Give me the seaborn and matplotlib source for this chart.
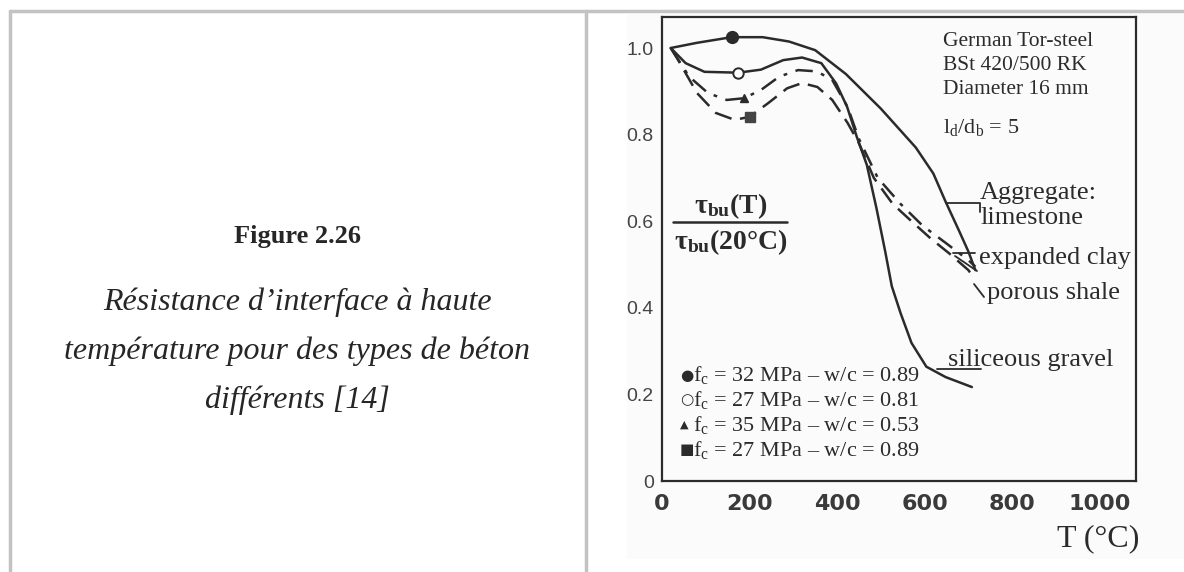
import numpy as np
import pandas as pd
import matplotlib
matplotlib.use('Agg')
import matplotlib.pyplot as plt
from matplotlib.lines import Line2D
from matplotlib.patches import Rectangle
import seaborn as sns

# values (T in degC, bond ratio)
limestone_T = [20, 80, 159, 230, 290, 350, 420, 500, 580, 620, 648, 680, 700, 716]
limestone_r = [1.0, 1.012, 1.025, 1.025, 1.015, 0.995, 0.94, 0.86, 0.77, 0.71, 0.645, 0.575, 0.53, 0.487]

gravel_T = [20, 54, 97, 174, 226, 277, 320, 364, 398, 423, 445, 468, 490, 510, 525, 545, 570, 604, 648, 708]
gravel_r = [1.0, 0.965, 0.945, 0.943, 0.95, 0.972, 0.978, 0.965, 0.918, 0.864, 0.795, 0.73, 0.63, 0.53, 0.45, 0.388, 0.319, 0.264, 0.24, 0.217]

clay_T = [20, 62, 105, 148, 187, 226, 268, 311, 354, 389, 424, 450, 493, 545, 595, 648, 700, 716]
clay_r = [1.0, 0.934, 0.896, 0.88, 0.884, 0.903, 0.934, 0.949, 0.946, 0.926, 0.864, 0.79, 0.70, 0.64, 0.59, 0.55, 0.51, 0.495]

shale_T = [20, 37, 80, 123, 166, 200, 243, 286, 320, 355, 389, 424, 450, 484, 527, 570, 614, 657, 700, 712]
shale_r = [1.0, 0.972, 0.896, 0.85, 0.834, 0.841, 0.873, 0.907, 0.919, 0.91, 0.88, 0.827, 0.78, 0.70, 0.64, 0.60, 0.56, 0.525, 0.487, 0.47]

# test points marked on the curves
marker_T = [159, 174, 187, 200]
marker_r = [1.025, 0.943, 0.884, 0.841]

x_ticks = [0, 200, 400, 600, 800, 1000]
y_ticks = [0, 0.2, 0.4, 0.6, 0.8, 1.0]
y_ticklabels = ['0', '0.2', '0.4', '0.6', '0.8', '1.0']

legend_lines = [r'f$_\mathrm{c}$ = 32 MPa – w/c = 0.89',
                r'f$_\mathrm{c}$ = 27 MPa – w/c = 0.81',
                r'f$_\mathrm{c}$ = 35 MPa – w/c = 0.53',
                r'f$_\mathrm{c}$ = 27 MPa – w/c = 0.89']
legend_syms = ['●', '○', '▲', '■']

sns.set_style('white')
plt.rcParams['font.family'] = ['Liberation Serif', 'DejaVu Sans']
plt.rcParams['mathtext.fontset'] = 'custom'
plt.rcParams['mathtext.rm'] = 'Liberation Serif'
plt.rcParams['mathtext.it'] = 'Liberation Serif:italic'
plt.rcParams['mathtext.bf'] = 'Liberation Serif:bold'

W, H = 1184, 572
fig = plt.figure(figsize=(W / 100, H / 100), dpi=100)


def fx(px):
    return px / W


def fy(py):
    return 1 - py / H


# scanned page background (very faint)
fig.add_artist(Rectangle((fx(627), fy(559)), fx(1184) - fx(627), fy(14) - fy(559),
                         transform=fig.transFigure, facecolor='#fcfbfb', edgecolor='none', zorder=0))

# table borders
border = '#c3c3c3'
fig.add_artist(Line2D([fx(10), fx(10)], [fy(11), 0], transform=fig.transFigure, color=border, lw=2.5))
fig.add_artist(Line2D([fx(10), 1], [fy(11), fy(11)], transform=fig.transFigure, color=border, lw=2.5))
fig.add_artist(Line2D([fx(586), fx(586)], [fy(11), 0], transform=fig.transFigure, color=border, lw=2.5))

# caption on the left
fig.text(fx(297), fy(236), 'Figure 2.26', ha='center', va='center', fontsize=19, fontweight='bold')
cap = ['Résistance d’interface à haute', 'température pour des types de béton', 'différents [14]']
for i, line in enumerate(cap):
    fig.text(fx(297), fy(302 + 49 * i), line, ha='center', va='center', fontsize=23, style='italic')

# chart
ax = fig.add_axes([fx(662), fy(481), fx(1136) - fx(662), fy(17) - fy(481)])
ax.set_facecolor('none')
ink = '#2b2b2b'
sns.lineplot(x=limestone_T, y=limestone_r, sort=False, ax=ax, color=ink, lw=1.8)
sns.lineplot(x=gravel_T, y=gravel_r, sort=False, ax=ax, color=ink, lw=1.8)
sns.lineplot(x=clay_T, y=clay_r, sort=False, ax=ax, color=ink, lw=1.8, linestyle=(0, (7, 3.5, 1.5, 3.5)))
sns.lineplot(x=shale_T, y=shale_r, sort=False, ax=ax, color=ink, lw=1.8, linestyle=(0, (7, 3.5)))

ax.plot(marker_T[0], marker_r[0], 'o', ms=8.5, color=ink)
ax.plot(marker_T[1], marker_r[1], 'o', ms=7.5, mfc='white', mec=ink, mew=1.4)
ax.plot(marker_T[2], marker_r[2], '^', ms=5.5, color=ink)
ax.plot(marker_T[3], marker_r[3], 's', ms=7, color='#444444')

ax.set_xlim(0, 1083)
ax.set_ylim(0, 1.0716)
ax.set_xticks(x_ticks)
ax.set_xticklabels([str(t) for t in x_ticks], fontfamily='DejaVu Sans', fontweight='bold',
                   fontsize=16, color='#3a3a3a')
ax.set_yticks(y_ticks)
ax.set_yticklabels(y_ticklabels, fontfamily=['Liberation Sans Narrow', 'Liberation Sans'],
                   fontsize=14, color='#444444')
ax.tick_params(axis='x', direction='in', length=13, width=1.3, color=ink, pad=9)
ax.tick_params(axis='y', direction='in', length=10, width=1.3, color=ink, pad=6)
for s in ax.spines.values():
    s.set_color(ink)
    s.set_linewidth(1.6)
ax.set_xlabel('')
ax.set_ylabel('')

# annotations inside the chart
info = ['German Tor-steel', 'BSt 420/500 RK', 'Diameter 16 mm']
for i, line in enumerate(info):
    fig.text(fx(943), fy(41 + 24 * i), line, ha='left', va='center', fontsize=15.5, color=ink)
fig.text(fx(943), fy(128), r'l$_\mathrm{d}$/d$_\mathrm{b}$ = 5', ha='left', va='center',
         fontsize=16, color=ink)

fig.text(fx(980), fy(193), 'Aggregate:', ha='left', va='center', fontsize=19, color=ink)
fig.text(fx(980), fy(218), 'limestone', ha='left', va='center', fontsize=19, color=ink)
fig.text(fx(979), fy(258), 'expanded clay', ha='left', va='center', fontsize=19, color=ink)
fig.text(fx(987), fy(293), 'porous shale', ha='left', va='center', fontsize=19, color=ink)
fig.text(fx(948), fy(360), 'siliceous gravel', ha='left', va='center', fontsize=19, color=ink)

leaders = [([946, 980, 980], [203, 203, 212]),
           ([953, 975], [253, 253]),
           ([955, 977], [256, 271]),
           ([974, 984], [284, 297]),
           ([937, 981], [369, 369])]
for xs, ys in leaders:
    fig.add_artist(Line2D([fx(v) for v in xs], [fy(v) for v in ys], transform=fig.transFigure,
                          color=ink, lw=1.3))

# y label as a fraction
fig.text(fx(731), fy(206), r'$\mathbf{\tau_{bu}}$' + '(T)', ha='center', va='center',
         fontsize=20, fontweight='bold', color=ink)
fig.add_artist(Line2D([fx(673), fx(787)], [fy(222), fy(222)], transform=fig.transFigure, color=ink, lw=1.8))
fig.text(fx(731), fy(242), r'$\mathbf{\tau_{bu}}$' + '(20°C)', ha='center', va='center',
         fontsize=20, fontweight='bold', color=ink)

# marker legend written as text
for i, (sym, line) in enumerate(zip(legend_syms, legend_lines)):
    fig.text(fx(680), fy(375 + 25 * i), sym, ha='left', va='center', fontsize=8 if sym == '▲' else 11,
             color=ink, family=['DejaVu Sans'])
    fig.text(fx(693), fy(375 + 25 * i), line, ha='left', va='center', fontsize=16, color=ink)

fig.text(fx(1098), fy(539), 'T (°C)', ha='center', va='center', fontsize=23, color=ink)

fig.savefig('out.png', dpi=100)
